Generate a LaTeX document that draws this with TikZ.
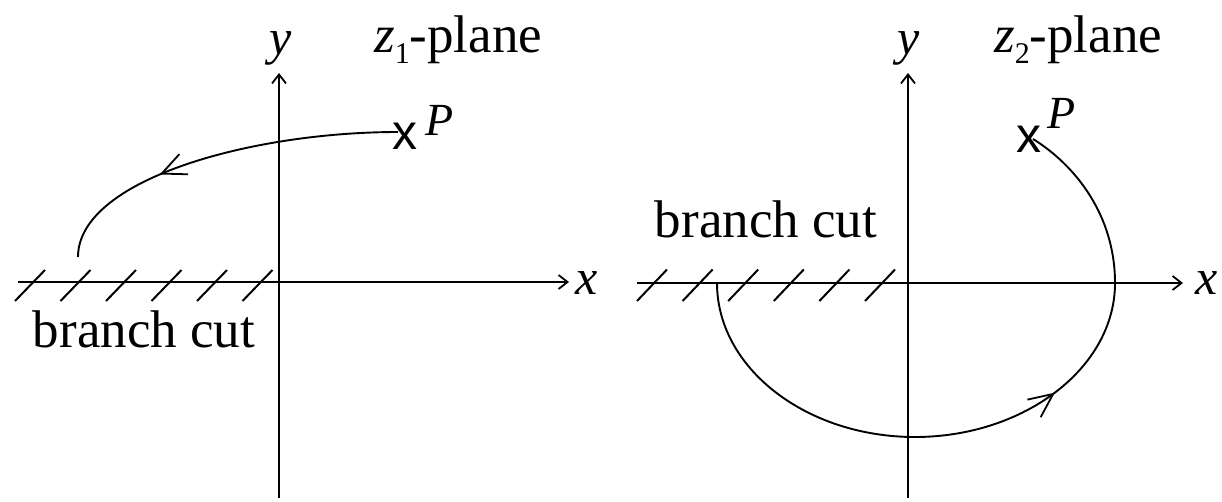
\documentclass[tikz,border=0pt]{standalone}
\usepackage{fontspec}
\setmainfont{Liberation Serif}
\newfontfamily\xsans{Liberation Sans}
\usetikzlibrary{arrows.meta,decorations.markings}
\begin{document}
\begin{tikzpicture}[x=1pt,y=-1pt,
  axis/.style={line width=2.1pt,-{Straight Barb[length=9pt,width=14pt,line width=1.8pt]}},
  hatchline/.style={line width=2pt},
  orbit/.style={line width=1.9pt},
  midarrow/.style={postaction=decorate,decoration={markings,
      mark=at position #1 with {\arrow{Straight Barb[length=24pt,width=22pt,line width=1.8pt]}}}},
  txt/.style={inner sep=0pt,font=\fontsize{53}{60}\selectfont},
  axlbl/.style={inner sep=0pt,font=\fontsize{50}{60}\selectfont\itshape},
  plbl/.style={inner sep=0pt,font=\fontsize{46}{54}\selectfont\itshape},
  xmark/.style={inner sep=0pt,font=\fontsize{50}{56}\selectfont\xsans}
]
\useasboundingbox (0,0) rectangle (1222,501);

% ---------- left panel ----------
\coordinate (lxs) at (18,282);
\coordinate (lxe) at (569,282);
\coordinate (lys) at (279,498);
\coordinate (lye) at (279,73);
\draw[axis] (lxs) -- (lxe);
\draw[axis] (lys) -- (lye);
\node[axlbl] (lx) at (587,283) {x};
\node[axlbl] (ly) at (281,48) {y};
\node[txt,anchor=base west] (lplane) at (374,52) {\textit{z}\raisebox{-0.22em}{\fontsize{30}{36}\selectfont 1}-plane};
\foreach \i in {0,...,5} {
  \draw[hatchline] (15+45.5*\i,301) -- (45+45.5*\i,270);
}
\node[txt,anchor=base] (lcut) at (144,347) {branch cut};
\node[xmark] (lP) at (405,136) {x};
\node[plbl] (lPl) at (440,120) {P};
\coordinate (lcs) at (398,132);
\coordinate (lce) at (78,257);
\draw[orbit,midarrow=0.665] (lcs) .. controls (250,132) and (78,180) .. (lce);

% ---------- right panel ----------
\coordinate (rxs) at (637,283);
\coordinate (rxe) at (1183,283);
\coordinate (rys) at (908,498);
\coordinate (rye) at (908,73);
\draw[axis] (rxs) -- (rxe);
\draw[axis] (rys) -- (rye);
\node[axlbl] (rx) at (1207,283) {x};
\node[axlbl] (ry) at (909,48) {y};
\node[txt,anchor=base west] (rplane) at (994,52) {\textit{z}\raisebox{-0.22em}{\fontsize{30}{36}\selectfont 2}-plane};
\foreach \i in {0,...,5} {
  \draw[hatchline] (637+45.6*\i,301) -- (667+45.6*\i,269.5);
}
\node[txt,anchor=base] (rcut) at (766,237) {branch cut};
\node[xmark] (rP) at (1029,139) {x};
\node[plbl] (rPl) at (1062,113) {P};
\coordinate (rcs) at (717,283);
\coordinate (rcb) at (915,437);
\coordinate (rcr) at (1115,283);
\coordinate (rce) at (1033,139);
\draw[orbit,midarrow=0.585] (rcs) .. controls (717,368) and (806,437) .. (rcb)
  .. controls (1024,437) and (1115,368) .. (rcr)
  .. controls (1115,215) and (1075,165) .. (rce);
\end{tikzpicture}
\end{document}
